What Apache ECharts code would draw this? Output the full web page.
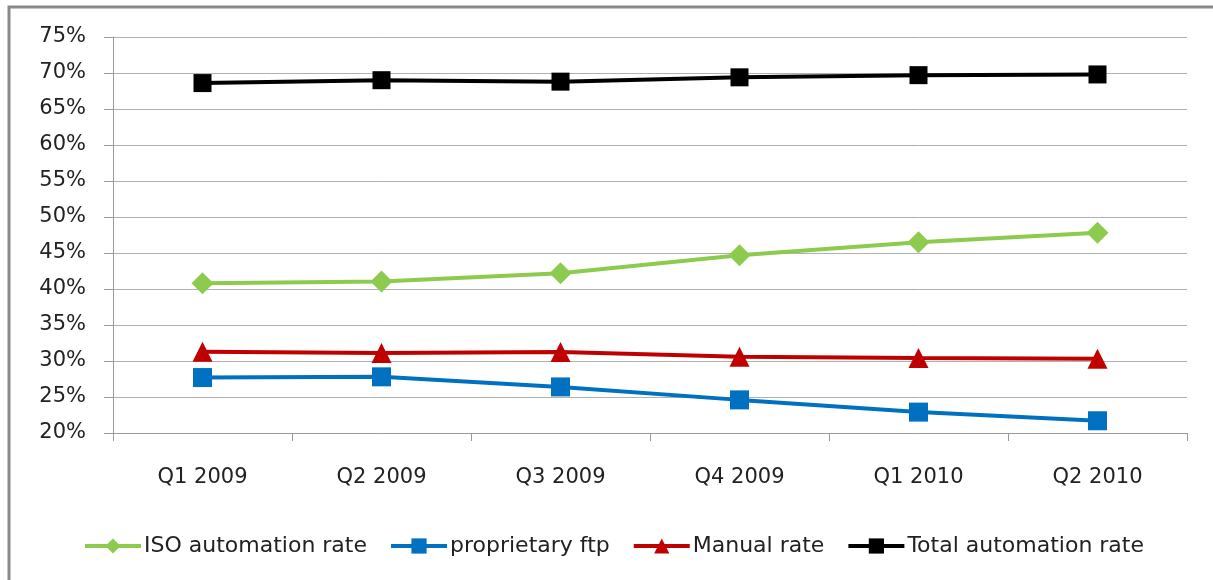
<!DOCTYPE html>
<html>
<head>
<meta charset="utf-8">
<style>
  html, body { margin: 0; padding: 0; background: #fff; }
  #chart { width: 1213px; height: 580px; }
</style>
<script src="https://cdn.jsdelivr.net/npm/echarts@6/dist/echarts.min.js"></script>
</head>
<body>
<div id="chart"></div>
<script>
// Quarterly automation rates (percent)
const quarters = ['Q1 2009', 'Q2 2009', 'Q3 2009', 'Q4 2009', 'Q1 2010', 'Q2 2010'];
const isoRate = [40.8, 41.05, 42.2, 44.7, 46.5, 47.8];
const proprietaryFtp = [27.7, 27.8, 26.4, 24.6, 22.9, 21.7];
const manualRate = [31.3, 31.1, 31.25, 30.6, 30.4, 30.3];
const totalRate = [68.6, 69.0, 68.8, 69.4, 69.7, 69.8];
const yTicks = { min: 20, max: 75, step: 5 };

const textFont = 'DejaVu Sans';

function lineSeries(name, data, color, symbol, size) {
  return {
    name: name,
    type: 'line',
    data: data,
    symbol: symbol,
    symbolSize: size,
    showSymbol: true,
    lineStyle: { color: color, width: 4 },
    itemStyle: { color: color },
    emphasis: { disabled: true },
    animation: false
  };
}

const chart = echarts.init(document.getElementById('chart'), null, { renderer: 'canvas' });
chart.setOption({
  backgroundColor: '#ffffff',
  animation: false,
  grid: { left: 113, right: 26, top: 37, bottom: 147, containLabel: false },
  graphic: [{
    type: 'rect',
    shape: { x: 9, y: 7, width: 1220, height: 600 },
    style: { fill: 'none', stroke: '#8a8a8a', lineWidth: 3 },
    silent: true
  }],
  legend: {
    bottom: 18,
    left: 78,
    itemWidth: 56,
    itemHeight: 19,
    itemGap: 22,
    lineStyle: { width: 4 },
    textStyle: { fontFamily: textFont, fontSize: 22, color: '#222', padding: [0, 0, 0, -2] },
    data: ['ISO automation rate', 'proprietary ftp', 'Manual rate', 'Total automation rate']
  },
  xAxis: {
    type: 'category',
    data: quarters,
    boundaryGap: true,
    axisLine: { lineStyle: { color: '#9a9a9a', width: 1 } },
    axisTick: { show: true, length: 8, lineStyle: { color: '#9a9a9a' }, alignWithLabel: false },
    axisLabel: { margin: 34, fontFamily: textFont, fontSize: 21, color: '#222' },
    splitLine: { show: false }
  },
  yAxis: {
    type: 'value',
    min: yTicks.min,
    max: yTicks.max,
    interval: yTicks.step,
    axisLine: { show: true, lineStyle: { color: '#9a9a9a', width: 1 } },
    axisTick: { show: true, length: 9, lineStyle: { color: '#9a9a9a' } },
    axisLabel: { margin: 27, fontFamily: textFont, fontSize: 21, color: '#222', formatter: '{value}%' },
    splitLine: { show: true, lineStyle: { color: '#b0b0b0', width: 1 } }
  },
  series: [
    lineSeries('ISO automation rate', isoRate, '#8ccb4e', 'diamond', 22),
    lineSeries('proprietary ftp', proprietaryFtp, '#0070c0', 'rect', 19),
    lineSeries('Manual rate', manualRate, '#c00000', 'triangle', 20),
    lineSeries('Total automation rate', totalRate, '#000000', 'rect', 18)
  ]
});
</script>
</body>
</html>
